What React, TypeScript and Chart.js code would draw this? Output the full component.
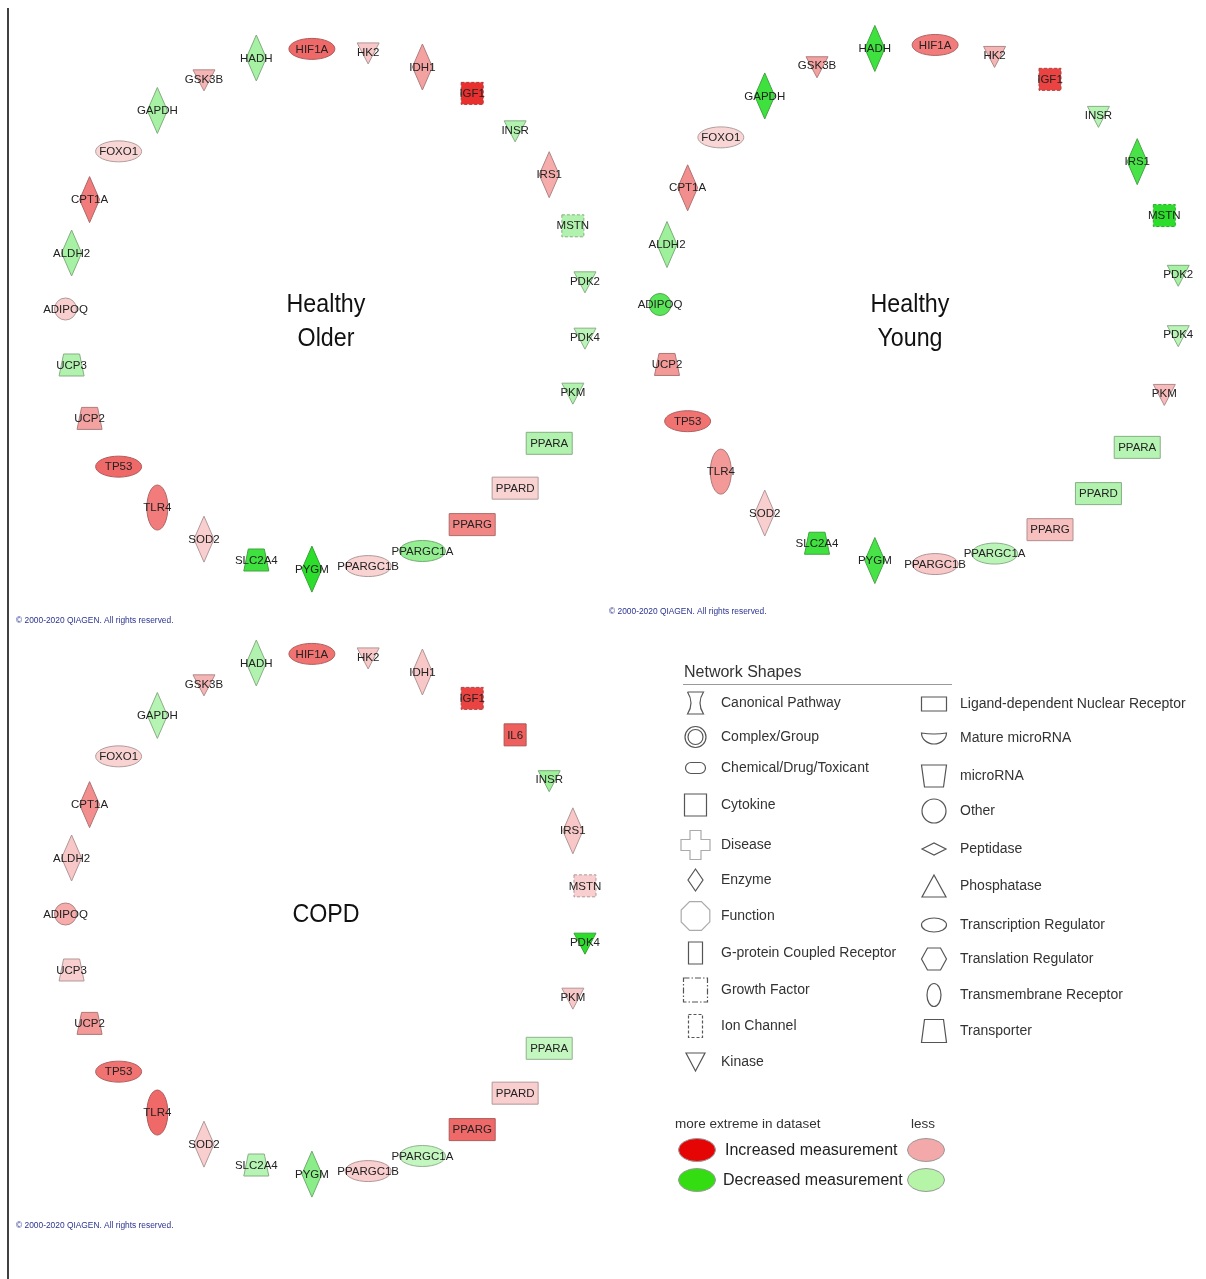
import React, { useEffect, useRef } from "react";
import { Chart, registerables } from "chart.js";

Chart.register(...registerables);

// ---------------- DATA ----------------
// Molecules in each network (IPA circular layout, alphabetical, clockwise from the left)
const OLDER_GENES = ["ADIPOQ", "ALDH2", "CPT1A", "FOXO1", "GAPDH", "GSK3B", "HADH", "HIF1A", "HK2", "IDH1", "IGF1", "INSR", "IRS1", "MSTN", "PDK2", "PDK4", "PKM", "PPARA", "PPARD", "PPARG", "PPARGC1A", "PPARGC1B", "PYGM", "SLC2A4", "SOD2", "TLR4", "TP53", "UCP2", "UCP3"];
// signed relative measurement (+ increased / - decreased), 1 = most extreme in dataset
const OLDER_LEVELS = [0.12, -0.3, 0.55, 0.08, -0.3, 0.25, -0.3, 0.65, 0.15, 0.35, 0.95, -0.25, 0.3, -0.25, -0.25, -0.2, -0.25, -0.25, 0.1, 0.5, -0.4, 0.1, -0.95, -0.85, 0.12, 0.55, 0.65, 0.35, -0.25];

const YOUNG_GENES = ["ADIPOQ", "ALDH2", "CPT1A", "FOXO1", "GAPDH", "GSK3B", "HADH", "HIF1A", "HK2", "IGF1", "INSR", "IRS1", "MSTN", "PDK2", "PDK4", "PKM", "PPARA", "PPARD", "PPARG", "PPARGC1A", "PPARGC1B", "PYGM", "SLC2A4", "SOD2", "TLR4", "TP53", "UCP2"];
const YOUNG_LEVELS = [-0.7, -0.35, 0.45, 0.08, -0.85, 0.35, -0.85, 0.55, 0.25, 0.85, -0.22, -0.8, -0.95, -0.3, -0.2, 0.22, -0.22, -0.25, 0.2, -0.2, 0.15, -0.8, -0.85, 0.12, 0.4, 0.6, 0.4];

const COPD_GENES = ["ADIPOQ", "ALDH2", "CPT1A", "FOXO1", "GAPDH", "GSK3B", "HADH", "HIF1A", "HK2", "IDH1", "IGF1", "IL6", "INSR", "IRS1", "MSTN", "PDK4", "PKM", "PPARA", "PPARD", "PPARG", "PPARGC1A", "PPARGC1B", "PYGM", "SLC2A4", "SOD2", "TLR4", "TP53", "UCP2", "UCP3"];
const COPD_LEVELS = [0.3, 0.15, 0.45, 0.1, -0.22, 0.25, -0.25, 0.6, 0.15, 0.15, 0.85, 0.7, -0.35, 0.15, 0.12, -0.95, 0.15, -0.15, 0.12, 0.65, -0.15, 0.12, -0.45, -0.22, 0.12, 0.65, 0.6, 0.4, 0.12];

const MOLECULE_TYPE: Record<string, string> = {
  ADIPOQ: "other", ALDH2: "enzyme", CPT1A: "enzyme", FOXO1: "transcription", GAPDH: "enzyme",
  GSK3B: "kinase", HADH: "enzyme", HIF1A: "transcription", HK2: "kinase", IDH1: "enzyme",
  IGF1: "growth", IL6: "cytokine", INSR: "kinase", IRS1: "enzyme", MSTN: "growth",
  PDK2: "kinase", PDK4: "kinase", PKM: "kinase", PPARA: "nuclear", PPARD: "nuclear",
  PPARG: "nuclear", PPARGC1A: "transcription", PPARGC1B: "transcription", PYGM: "enzyme",
  SLC2A4: "transporter", SOD2: "enzyme", TLR4: "transmembrane", TP53: "transcription",
  UCP2: "transporter", UCP3: "transporter",
};

const PANEL_TITLES = [["Healthy", "Older"], ["Healthy", "Young"], ["COPD"]];
const COPYRIGHT = "\u00A9 2000-2020 QIAGEN. All rights reserved.";

const SHAPE_LEGEND_LEFT = ["Canonical Pathway", "Complex/Group", "Chemical/Drug/Toxicant", "Cytokine", "Disease", "Enzyme", "Function", "G-protein Coupled Receptor", "Growth Factor", "Ion Channel", "Kinase"];
const SHAPE_ICONS_LEFT = ["canonical", "complex", "chemical", "cytokine", "disease", "enzyme", "function", "gpcr", "growth", "ion", "kinase"];
const SHAPE_LEGEND_RIGHT = ["Ligand-dependent Nuclear Receptor", "Mature microRNA", "microRNA", "Other", "Peptidase", "Phosphatase", "Transcription Regulator", "Translation Regulator", "Transmembrane Receptor", "Transporter"];
const SHAPE_ICONS_RIGHT = ["nuclear", "mature", "microrna", "other", "peptidase", "phosphatase", "transcription", "translation", "transmembrane", "transporter"];

// ---------------- LAYOUT ----------------
const W = 1206;
const H = 1279;
const RINGS = [
  { cx: 326, cy: 309, r: 260.5, titleX: 326, titleY: [312, 346], copyX: 16, copyY: 621 },
  { cx: 920, cy: 304.5, r: 260, titleX: 910, titleY: [312, 346], copyX: 609, copyY: 612 },
  { cx: 326, cy: 914, r: 260.5, titleX: 326, titleY: [922], copyX: 16, copyY: 1226 },
];
const LEFT_ICON_X = 695.5, LEFT_TEXT_X = 721;
const RIGHT_ICON_X = 934, RIGHT_TEXT_X = 960;
const LEFT_Y = [703, 737, 768, 805, 845, 880, 916, 953, 990, 1026, 1062];
const RIGHT_Y = [704, 738, 776, 811, 849, 886, 925, 959, 995, 1031];

const FONT = "'Liberation Sans', Arial, sans-serif";

function ringPoints(n: number, ring: { cx: number; cy: number; r: number }) {
  const pts: { x: number; y: number }[] = [];
  for (let i = 0; i < n; i++) {
    const t = Math.PI - (i * 2 * Math.PI) / n;
    pts.push({ x: ring.cx + ring.r * Math.cos(t), y: ring.cy - ring.r * Math.sin(t) });
  }
  return pts;
}

function mix(a: number[], b: number[], t: number) {
  return a.map((v, i) => Math.round(v + (b[i] - v) * t));
}
function levelRgb(v: number) {
  const t = Math.min(1, Math.abs(v));
  return v >= 0 ? mix([251, 229, 229], [232, 38, 36], t) : mix([224, 250, 220], [34, 221, 34], t);
}
const rgb = (c: number[]) => `rgb(${c.join(",")})`;

function nodePath(ctx: CanvasRenderingContext2D, type: string, x: number, y: number) {
  ctx.beginPath();
  switch (type) {
    case "enzyme":
      ctx.moveTo(x, y - 23); ctx.lineTo(x + 10, y); ctx.lineTo(x, y + 23); ctx.lineTo(x - 10, y); ctx.closePath();
      break;
    case "transcription":
      ctx.ellipse(x, y, 23, 10.5, 0, 0, Math.PI * 2);
      break;
    case "transmembrane":
      ctx.ellipse(x, y, 10.5, 22.5, 0, 0, Math.PI * 2);
      break;
    case "kinase":
      ctx.moveTo(x - 11, y - 9); ctx.lineTo(x + 11, y - 9); ctx.lineTo(x, y + 12); ctx.closePath();
      break;
    case "growth":
    case "cytokine":
      ctx.rect(x - 11, y - 11, 22, 22);
      break;
    case "nuclear":
      ctx.rect(x - 23, y - 11, 46, 22);
      break;
    case "transporter":
      ctx.moveTo(x - 8, y - 11); ctx.lineTo(x + 8, y - 11); ctx.lineTo(x + 12.5, y + 11); ctx.lineTo(x - 12.5, y + 11); ctx.closePath();
      break;
    default:
      ctx.arc(x, y, 11, 0, Math.PI * 2);
  }
}

function drawIcon(ctx: CanvasRenderingContext2D, key: string, x: number, y: number) {
  ctx.save();
  ctx.strokeStyle = "#555";
  ctx.lineWidth = 1.2;
  ctx.setLineDash([]);
  ctx.beginPath();
  switch (key) {
    case "canonical":
      ctx.moveTo(x - 8, y - 11); ctx.lineTo(x + 8, y - 11);
      ctx.quadraticCurveTo(x + 1, y, x + 8, y + 11); ctx.lineTo(x - 8, y + 11);
      ctx.quadraticCurveTo(x - 1, y, x - 8, y - 11);
      break;
    case "complex":
      ctx.arc(x, y, 10.5, 0, Math.PI * 2);
      ctx.moveTo(x + 7.5, y);
      ctx.arc(x, y, 7.5, 0, Math.PI * 2);
      break;
    case "chemical": {
      const w = 20, h = 11, r = 5.5;
      ctx.moveTo(x - w / 2 + r, y - h / 2); ctx.lineTo(x + w / 2 - r, y - h / 2);
      ctx.arc(x + w / 2 - r, y, r, -Math.PI / 2, Math.PI / 2);
      ctx.lineTo(x - w / 2 + r, y + h / 2);
      ctx.arc(x - w / 2 + r, y, r, Math.PI / 2, Math.PI * 1.5);
      break;
    }
    case "cytokine":
      ctx.rect(x - 11, y - 11, 22, 22);
      break;
    case "disease": {
      ctx.strokeStyle = "#aaa";
      const a = 5.5, e = 14.5;
      ctx.moveTo(x - a, y - e); ctx.lineTo(x + a, y - e); ctx.lineTo(x + a, y - a); ctx.lineTo(x + e, y - a);
      ctx.lineTo(x + e, y + a); ctx.lineTo(x + a, y + a); ctx.lineTo(x + a, y + e); ctx.lineTo(x - a, y + e);
      ctx.lineTo(x - a, y + a); ctx.lineTo(x - e, y + a); ctx.lineTo(x - e, y - a); ctx.lineTo(x - a, y - a);
      ctx.closePath();
      break;
    }
    case "enzyme":
      ctx.moveTo(x, y - 11); ctx.lineTo(x + 7.5, y); ctx.lineTo(x, y + 11); ctx.lineTo(x - 7.5, y); ctx.closePath();
      break;
    case "function":
      ctx.strokeStyle = "#aaa";
      for (let k = 0; k < 8; k++) {
        const t = Math.PI / 8 + (k * Math.PI) / 4;
        const px = x + 15.5 * Math.cos(t), py = y + 15.5 * Math.sin(t);
        if (k === 0) ctx.moveTo(px, py); else ctx.lineTo(px, py);
      }
      ctx.closePath();
      break;
    case "gpcr":
      ctx.rect(x - 7, y - 11, 14, 22);
      break;
    case "growth":
      ctx.setLineDash([6, 2, 1.5, 2]);
      ctx.rect(x - 12, y - 12, 24, 24);
      break;
    case "ion":
      ctx.setLineDash([3, 2]);
      ctx.rect(x - 7, y - 11.5, 14, 23);
      break;
    case "kinase":
      ctx.moveTo(x - 9.5, y - 9); ctx.lineTo(x + 9.5, y - 9); ctx.lineTo(x, y + 9); ctx.closePath();
      break;
    case "nuclear":
      ctx.rect(x - 12.5, y - 7, 25, 14);
      break;
    case "mature":
      ctx.moveTo(x - 12.5, y - 5);
      ctx.quadraticCurveTo(x, y - 3, x + 12.5, y - 5);
      ctx.ellipse(x, y - 5, 12.5, 11, 0, 0, Math.PI);
      ctx.closePath();
      break;
    case "microrna":
      ctx.moveTo(x - 12.5, y - 11); ctx.lineTo(x + 12.5, y - 11); ctx.lineTo(x + 9.5, y + 11); ctx.lineTo(x - 9.5, y + 11); ctx.closePath();
      break;
    case "other":
      ctx.arc(x, y, 12, 0, Math.PI * 2);
      break;
    case "peptidase":
      ctx.moveTo(x - 12, y); ctx.lineTo(x, y - 6); ctx.lineTo(x + 12, y); ctx.lineTo(x, y + 6); ctx.closePath();
      break;
    case "phosphatase":
      ctx.moveTo(x, y - 11); ctx.lineTo(x + 12, y + 11); ctx.lineTo(x - 12, y + 11); ctx.closePath();
      break;
    case "transcription":
      ctx.ellipse(x, y, 12.5, 7, 0, 0, Math.PI * 2);
      break;
    case "translation":
      ctx.moveTo(x - 12.5, y); ctx.lineTo(x - 6.5, y - 11); ctx.lineTo(x + 6.5, y - 11);
      ctx.lineTo(x + 12.5, y); ctx.lineTo(x + 6.5, y + 11); ctx.lineTo(x - 6.5, y + 11); ctx.closePath();
      break;
    case "transmembrane":
      ctx.ellipse(x, y, 7, 11.5, 0, 0, Math.PI * 2);
      break;
    case "transporter":
      ctx.moveTo(x - 9.5, y - 11.5); ctx.lineTo(x + 9.5, y - 11.5); ctx.lineTo(x + 12.5, y + 11.5); ctx.lineTo(x - 12.5, y + 11.5); ctx.closePath();
      break;
  }
  ctx.stroke();
  ctx.restore();
}

const PANEL_GENES = [OLDER_GENES, YOUNG_GENES, COPD_GENES];
const PANEL_LEVELS = [OLDER_LEVELS, YOUNG_LEVELS, COPD_LEVELS];

const networkPlugin = {
  id: "networkNodes",
  afterDatasetsDraw(chart: any) {
    const ctx: CanvasRenderingContext2D = chart.ctx;
    PANEL_GENES.forEach((genes, d) => {
      const meta = chart.getDatasetMeta(d);
      genes.forEach((g, j) => {
        const el = meta.data[j];
        if (!el) return;
        const x = el.x, y = el.y;
        const type = MOLECULE_TYPE[g];
        const fill = levelRgb(PANEL_LEVELS[d][j]);
        ctx.save();
        nodePath(ctx, type, x, y);
        ctx.fillStyle = rgb(fill);
        ctx.fill();
        ctx.strokeStyle = rgb(mix(fill, [70, 70, 70], 0.4));
        ctx.lineWidth = 1;
        if (type === "growth") ctx.setLineDash([3, 2]);
        ctx.stroke();
        ctx.restore();
        ctx.save();
        ctx.font = `11.5px ${FONT}`;
        ctx.fillStyle = "#222";
        ctx.textAlign = "center";
        ctx.textBaseline = "middle";
        ctx.fillText(g, x, y + 0.5);
        ctx.restore();
      });
    });
  },
};

const decorPlugin = {
  id: "decorations",
  afterDraw(chart: any) {
    const ctx: CanvasRenderingContext2D = chart.ctx;
    ctx.save();
    // left rule
    ctx.strokeStyle = "#111";
    ctx.lineWidth = 1.6;
    ctx.beginPath();
    ctx.moveTo(8, 8);
    ctx.lineTo(8, H);
    ctx.stroke();

    // titles and copyright
    RINGS.forEach((ring, p) => {
      PANEL_TITLES[p].forEach((t, k) => {
        ctx.save();
        ctx.translate(ring.titleX, ring.titleY[k]);
        ctx.scale(0.93, 1);
        ctx.font = `25px ${FONT}`;
        ctx.fillStyle = "#111";
        ctx.textAlign = "center";
        ctx.textBaseline = "alphabetic";
        ctx.fillText(t, 0, 0);
        ctx.restore();
      });
      ctx.font = `8.4px ${FONT}`;
      ctx.fillStyle = "#2b3390";
      ctx.textAlign = "left";
      ctx.textBaseline = "middle";
      ctx.fillText(COPYRIGHT, ring.copyX, ring.copyY);
    });

    // shape legend
    ctx.fillStyle = "#333";
    ctx.font = `16px ${FONT}`;
    ctx.textAlign = "left";
    ctx.textBaseline = "middle";
    ctx.fillText("Network Shapes", 684, 673);
    ctx.strokeStyle = "#999";
    ctx.lineWidth = 1;
    ctx.beginPath();
    ctx.moveTo(683, 684.5);
    ctx.lineTo(952, 684.5);
    ctx.stroke();

    ctx.font = `14px ${FONT}`;
    SHAPE_LEGEND_LEFT.forEach((label, i) => {
      drawIcon(ctx, SHAPE_ICONS_LEFT[i], LEFT_ICON_X, LEFT_Y[i]);
      ctx.fillStyle = "#333";
      ctx.fillText(label, LEFT_TEXT_X, LEFT_Y[i]);
    });
    SHAPE_LEGEND_RIGHT.forEach((label, i) => {
      drawIcon(ctx, SHAPE_ICONS_RIGHT[i], RIGHT_ICON_X, RIGHT_Y[i]);
      ctx.fillStyle = "#333";
      ctx.fillText(label, RIGHT_TEXT_X, RIGHT_Y[i]);
    });

    // colour legend
    ctx.font = `13.5px ${FONT}`;
    ctx.fillStyle = "#333";
    ctx.fillText("more extreme in dataset", 675, 1124);
    ctx.fillText("less", 911, 1124);
    const ell = (x: number, y: number, c: string) => {
      ctx.beginPath();
      ctx.ellipse(x, y, 18.5, 11.5, 0, 0, Math.PI * 2);
      ctx.fillStyle = c;
      ctx.fill();
      ctx.strokeStyle = "#999";
      ctx.lineWidth = 1;
      ctx.stroke();
    };
    ell(697, 1150, "#e60505");
    ell(926, 1150, "#f3a9a9");
    ell(697, 1180, "#33dd11");
    ell(926, 1180, "#b6f4a8");
    ctx.font = `16px ${FONT}`;
    ctx.fillStyle = "#222";
    ctx.fillText("Increased measurement", 725, 1151);
    ctx.fillText("Decreased measurement", 723, 1181);
    ctx.restore();
  },
};

export default function App() {
  const ref = useRef<HTMLCanvasElement | null>(null);
  useEffect(() => {
    if (!ref.current) return;
    const datasets = PANEL_GENES.map((genes, d) => ({
      label: PANEL_TITLES[d].join(" "),
      data: ringPoints(genes.length, RINGS[d]),
      pointRadius: 0,
      pointHoverRadius: 0,
      showLine: false,
    }));
    const chart = new Chart(ref.current, {
      type: "scatter",
      data: { datasets },
      options: {
        animation: false,
        responsive: false,
        maintainAspectRatio: false,
        events: [],
        layout: { padding: 0 },
        plugins: { legend: { display: false }, tooltip: { enabled: false }, title: { display: false } },
        scales: {
          x: { type: "linear", min: 0, max: W, display: false },
          y: { type: "linear", min: 0, max: H, reverse: true, display: false },
        },
      },
      plugins: [networkPlugin, decorPlugin],
    } as any);
    return () => chart.destroy();
  }, []);
  return (
    <canvas
      ref={ref}
      width={W}
      height={H}
      style={{ position: "fixed", left: 0, top: 0, width: W, height: H, background: "#fff" }}
    />
  );
}
